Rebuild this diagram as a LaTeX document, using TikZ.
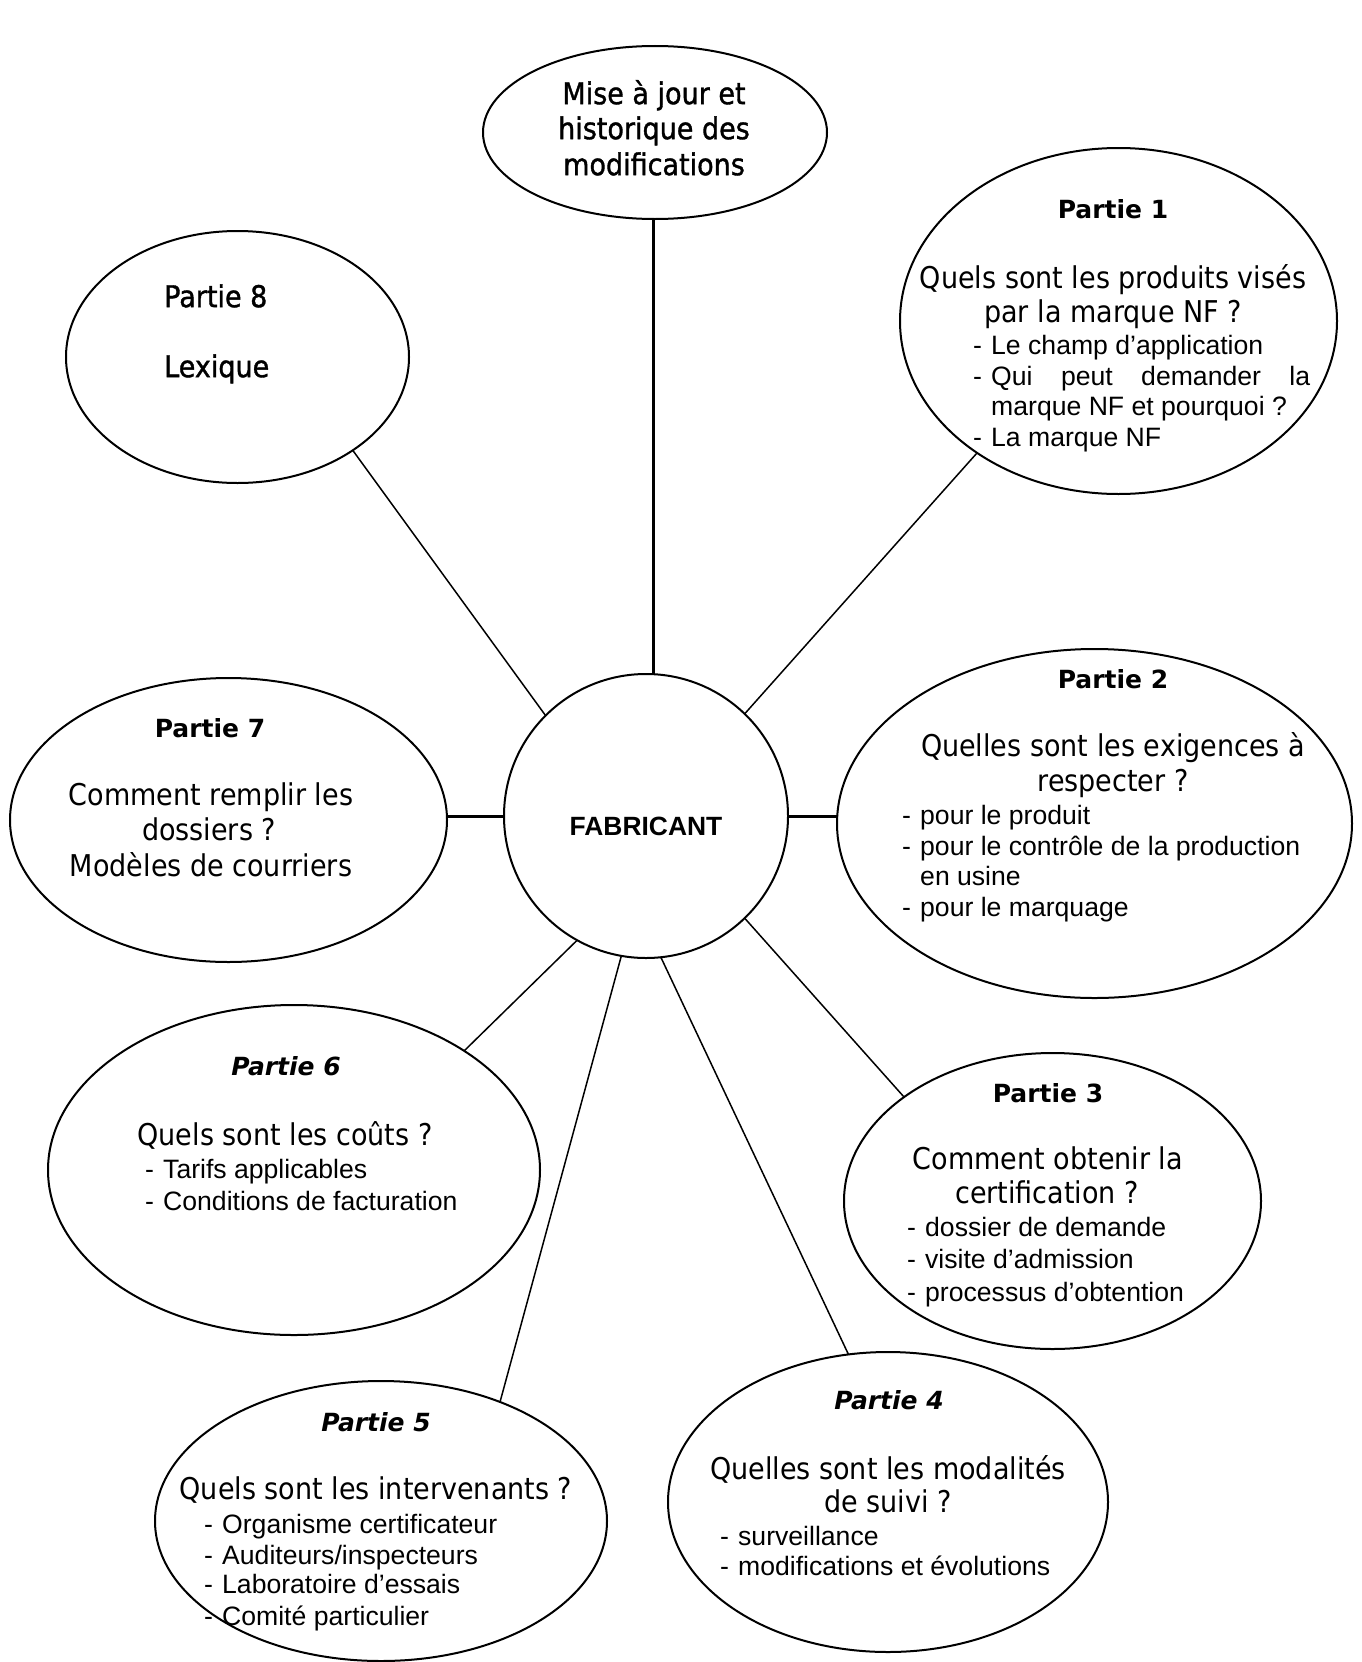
\documentclass[tikz,border=0pt]{standalone}
\usepackage{fontspec}
\usetikzlibrary{shapes.geometric}
\newfontfamily\tahf{DejaVu Sans}[FakeStretch=0.9]
\newfontfamily\tahbf{DejaVu Sans}[FakeStretch=0.9,FakeBold=1.2]
\newfontfamily\arif{Liberation Sans}
\newfontfamily\hdf{DejaVu Sans}
\newcommand\bdash{\makebox[18pt][l]{-}}
\begin{document}
\begin{tikzpicture}[x=1pt,y=-1pt,
  ell/.style={draw, ellipse, line width=2pt, inner sep=0pt, outer sep=0pt},
  thinln/.style={line width=1.5pt},
  thickln/.style={line width=3pt},
  tx/.style={font=\tahf\fontsize{30}{36}\selectfont, inner sep=0pt, anchor=mid},
  txb/.style={font=\tahbf\fontsize{30}{36}\selectfont, inner sep=0pt, anchor=mid},
  hd/.style={font=\hdf\bfseries\fontsize{25}{30}\selectfont, inner sep=0pt, anchor=mid},
  hdi/.style={font=\hdf\bfseries\itshape\fontsize{25}{30}\selectfont, inner sep=0pt, anchor=mid},
  bl/.style={font=\arif\fontsize{26.6}{30}\selectfont, inner sep=0pt, anchor=mid west}]
\useasboundingbox (0,0) rectangle (1362,1662);
\fill[white] (0,0) rectangle (1362,1662);

% ellipses
\node[ell, minimum width=344, minimum height=173] (e0) at (655,132.5) {};
\node[ell, minimum width=343, minimum height=252] (e8) at (237.5,357) {};
\node[ell, minimum width=437, minimum height=346] (e1) at (1118.5,321) {};
\node[ell, minimum width=437, minimum height=284] (e7) at (228.5,820) {};
\node[ell, minimum width=515, minimum height=349] (e2) at (1094.5,823.5) {};
\node[ell, minimum width=492, minimum height=330] (e6) at (294,1170) {};
\node[ell, minimum width=417, minimum height=296] (e3) at (1052.5,1201) {};
\node[ell, minimum width=440, minimum height=300] (e4) at (888,1502) {};
\node[ell, minimum width=452, minimum height=280] (e5) at (381,1521) {};
\node[draw, circle, line width=2pt, inner sep=0pt, outer sep=0pt, minimum size=284] (fab) at (646,816) {};

% connectors
\draw[thickln] (fab.87) -- (fab.87 |- e0.south);
\draw[thinln] (fab.135) -- (e8.-39);
\draw[thinln] (fab.46) -- (e1.-137);
\draw[thickln] (fab.west) -- (fab.west -| e7.east);
\draw[thickln] (fab.east) -- (fab.east -| e2.west);
\draw[thinln] (fab.-46) -- (e3.145);
\draw[thinln] (fab.-119) -- (e6.35);
\draw[thinln] (fab.-100) -- (e5.45);
\draw[thinln] (fab.-84) -- (e4.105);

% centre
\node[font=\arif\bfseries\fontsize{26.4}{30}\selectfont, inner sep=0pt] (fabt) at (646,826) {FABRICANT};

% top
\node[txb] (t0a) at (654,102) {Mise à jour et};
\node[txb] (t0b) at (654,137) {historique des};
\node[txb] (t0c) at (654,173) {modifications};

% Partie 8
\node[txb, anchor=mid west] (t8a) at (164,305) {Partie 8};
\node[txb, anchor=mid west] (t8b) at (164,375) {Lexique};

% Partie 1
\node[hd] (h1) at (1113,216) {Partie 1};
\node[tx] (q1a) at (1113,286) {Quels sont les produits visés};
\node[tx] (q1b) at (1113,320) {par la marque NF ?};
\node[bl] (b1a) at (973,352.5) {\bdash Le champ d’application};
\node[bl] (b1b) at (973,383) {\bdash\makebox[319pt][s]{Qui peut demander la}};
\node[bl] (b1c) at (991,413) {marque NF et pourquoi ?};
\node[bl] (b1d) at (973,444) {\bdash La marque NF};

% Partie 2
\node[hd] (h2) at (1113,686) {Partie 2};
\node[tx] (q2a) at (1113,754) {Quelles sont les exigences à};
\node[tx] (q2b) at (1113,789) {respecter ?};
\node[bl] (b2a) at (902,822) {\bdash pour le produit};
\node[bl] (b2b) at (902,853) {\bdash pour le contrôle de la production};
\node[bl] (b2c) at (920,883.5) {en usine};
\node[bl] (b2d) at (902,914) {\bdash pour le marquage};

% Partie 7
\node[hd] (h7) at (210,735) {Partie 7};
\node[tx] (q7a) at (211,803) {Comment remplir les};
\node[tx] (q7b) at (209,838) {dossiers ?};
\node[tx] (q7c) at (211,874) {Modèles de courriers};

% Partie 6
\node[hdi] (h6) at (286,1073) {Partie 6};
\node[tx] (q6) at (285,1143) {Quels sont les coûts ?};
\node[bl] (b6a) at (145,1176) {\bdash Tarifs applicables};
\node[bl] (b6b) at (145,1208) {\bdash Conditions de facturation};

% Partie 3
\node[hd] (h3) at (1048,1100) {Partie 3};
\node[tx] (q3a) at (1048,1167.5) {Comment obtenir la};
\node[tx] (q3b) at (1047,1201.5) {certification ?};
\node[bl] (b3a) at (907,1234) {\bdash dossier de demande};
\node[bl] (b3b) at (907,1266) {\bdash visite d’admission};
\node[bl] (b3c) at (907,1299) {\bdash processus d’obtention};

% Partie 4
\node[hdi] (h4) at (889,1407) {Partie 4};
\node[tx] (q4a) at (888,1477) {Quelles sont les modalités};
\node[tx] (q4b) at (888,1510) {de suivi ?};
\node[bl] (b4a) at (720,1543) {\bdash surveillance};
\node[bl] (b4b) at (720,1573.5) {\bdash modifications et évolutions};

% Partie 5
\node[hdi] (h5) at (376,1429) {Partie 5};
\node[tx] (q5) at (376,1497) {Quels sont les intervenants ?};
\node[bl] (b5a) at (204,1531) {\bdash Organisme certificateur};
\node[bl] (b5b) at (204,1562) {\bdash Auditeurs/inspecteurs};
\node[bl] (b5c) at (204,1591) {\bdash Laboratoire d’essais};
\node[bl] (b5d) at (204,1623) {\bdash Comité particulier};
\end{tikzpicture}
\end{document}
